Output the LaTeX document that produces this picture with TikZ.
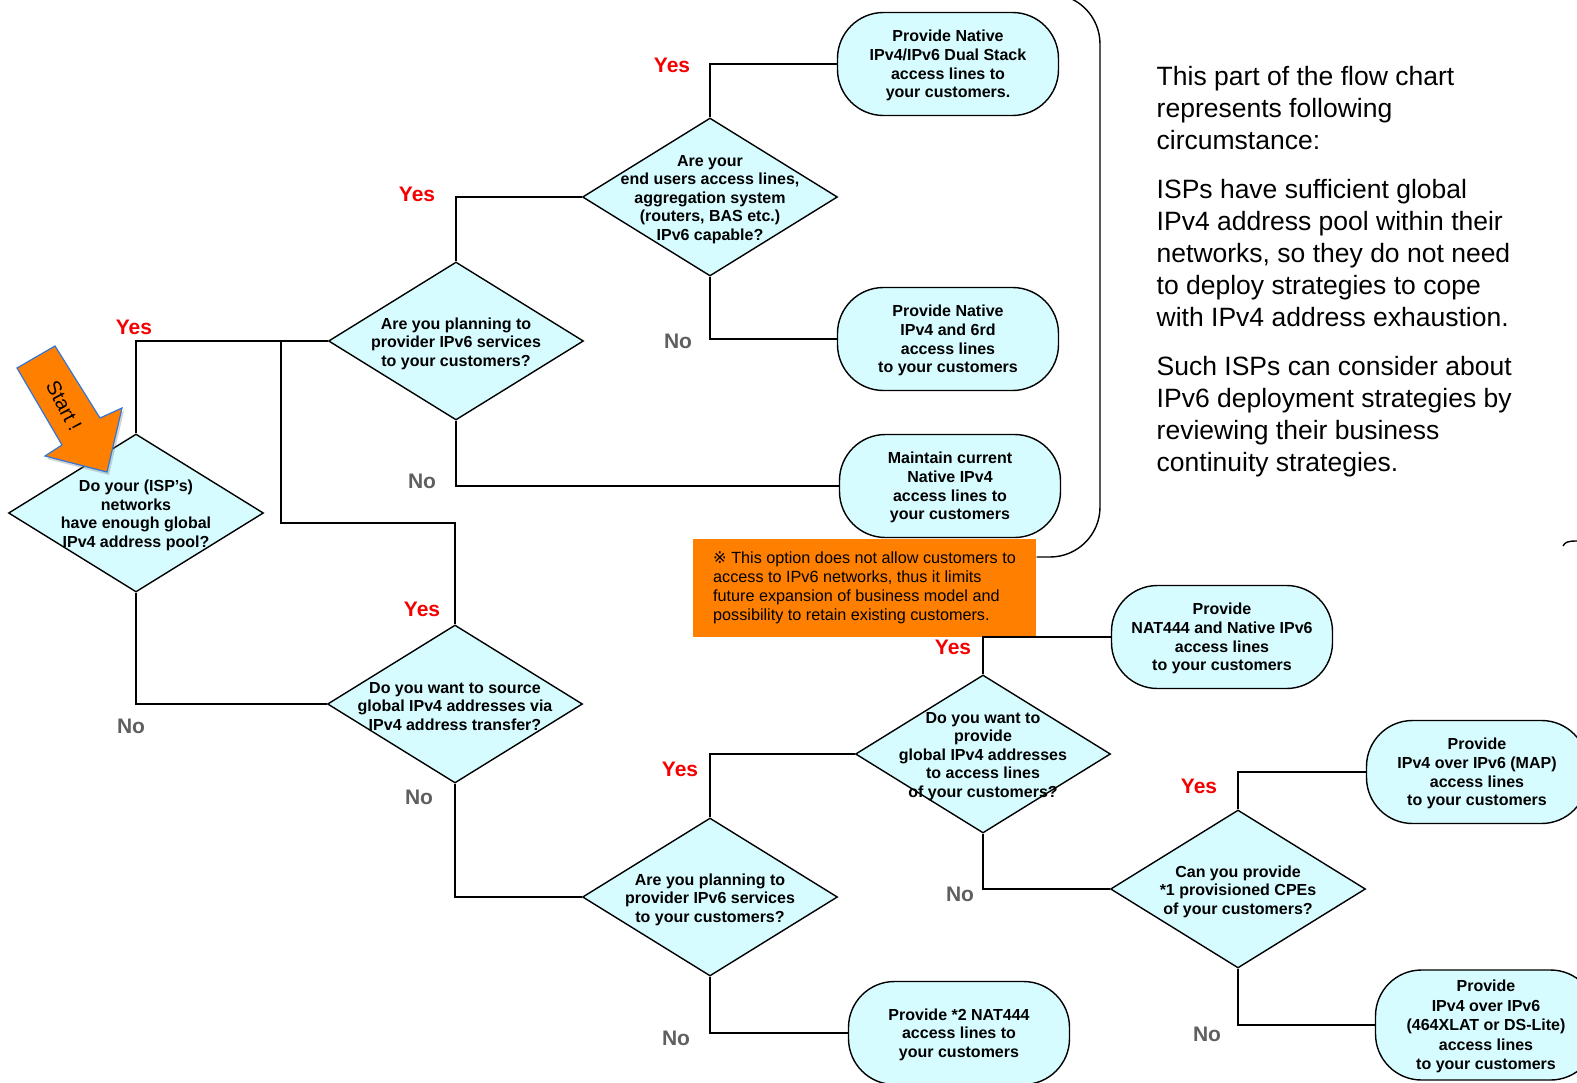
\documentclass[tikz,border=0pt]{standalone}
\usepackage{fontspec}
\setmainfont{Liberation Sans}
\newfontfamily\symfont{DejaVu Sans}
\usetikzlibrary{shapes.geometric,shadows}
\definecolor{qfill}{RGB}{214,252,255}
\definecolor{startorange}{RGB}{255,128,0}
\definecolor{startblue}{RGB}{52,118,214}
\definecolor{yesred}{RGB}{245,0,0}
\definecolor{nogray}{RGB}{95,95,95}

\begin{document}
\begin{tikzpicture}[x=1pt,y=-1pt,line width=1.4pt,
  question/.style={diamond,draw=black,fill=qfill,minimum width=255pt,minimum height=158pt,inner sep=0pt},
  qtext/.style={align=center,font=\bfseries\fontsize{16}{18.6}\selectfont,inner sep=0pt,yshift=-2.5pt},
  answer/.style={draw=black,fill=qfill,rounded corners=46pt,minimum width=221pt,minimum height=103pt,
    align=center,font=\bfseries\fontsize{16}{18.6}\selectfont,inner sep=0pt,text depth=0pt},
  yeslbl/.style={text=yesred,font=\bfseries\fontsize{21}{24}\selectfont},
  nolbl/.style={text=nogray,font=\bfseries\fontsize{21}{24}\selectfont},
  startarrow/.style={fill=startorange,draw=startblue,line width=1.2pt,line join=miter,
    drop shadow={opacity=0.35,shadow xshift=2pt,shadow yshift=-3pt}}]
\useasboundingbox (0,0) rectangle (1577,1082);

% questions
\node[question] (d1) at (136,513) {};
\node[qtext] (d1t) at (136,513) {Do your (ISP’s)\\ networks\\ have enough global\\ IPv4 address pool?};
\node[question] (d2) at (456,341) {};
\node[qtext] (d2t) at (d2) {Are you planning to\\ provider IPv6 services\\ to your customers?};
\node[question] (d3) at (710,197) {};
\node[qtext] (d3t) at (d3) {Are your\\ end users access lines,\\ aggregation system\\ (routers, BAS etc.)\\ IPv6 capable?};
\node[question] (d4) at (455,704) {};
\node[qtext] (d4t) at (d4) {Do you want to source\\ global IPv4 addresses via\\ IPv4 address transfer?};
\node[question] (d5) at (983,754) {};
\node[qtext] (d5t) at (d5) {Do you want to\\ provide\\ global IPv4 addresses\\ to access lines\\ of your customers?};
\node[question] (d6) at (710,897) {};
\node[qtext] (d6t) at (d6) {Are you planning to\\ provider IPv6 services\\ to your customers?};
\node[question] (d7) at (1238,889) {};
\node[qtext] (d7t) at (d7) {Can you provide\\ *1 provisioned CPEs\\ of your customers?};

% answers
\node[answer] (t1) at (948,64) {Provide Native\\ IPv4/IPv6 Dual Stack\\ access lines to\\ your customers.};
\node[answer] (t2) at (948,339) {Provide Native\\ IPv4 and 6rd\\ access lines\\ to your customers};
\node[answer] (t3) at (950,486) {Maintain current\\ Native IPv4\\ access lines to\\ your customers};
\node[answer] (t4) at (1222,637) {Provide\\ NAT444 and Native IPv6\\ access lines\\ to your customers};
\node[answer] (t5) at (1477,772) {Provide\\ IPv4 over IPv6 (MAP)\\ access lines\\ to your customers};
\node[answer,minimum height=110pt,font=\bfseries\fontsize{16}{19.5}\selectfont] (t6) at (1486,1025)
  {Provide\\ IPv4 over IPv6\\ (464XLAT or DS-Lite)\\ access lines\\ to your customers};
\node[answer] (t7) at (959,1033) {Provide *2 NAT444\\ access lines to\\ your customers};

% note
\node[fill=startorange,minimum width=343pt,minimum height=98pt,inner sep=0pt,align=left,
  font=\fontsize{16.2}{19}\selectfont] (note) at (864.5,588)
  {{\symfont ※} This option does not allow customers to\\ access to IPv6 networks, thus it limits\\
   future expansion of business model and\\ possibility to retain existing customers.};

% connectors
\coordinate (j1) at (281,341);
\coordinate (j2) at (281,523);
\draw (d1.north) |- (d2.west);
\draw (d1.south) |- (d4.west);
\draw (d4.north) |- (j2) -- (j1);
\draw (d2.north) |- (d3.west);
\draw (d2.south) |- (t3.west);
\draw (d3.north) |- (t1.west);
\draw (d3.south) |- (t2.west);
\draw (d4.south) |- (d6.west);
\draw (d6.north) |- (d5.west);
\draw (d6.south) |- (t7.west);
\draw (d5.north) |- (t4.west);
\draw (d5.south) |- (d7.west);
\draw (d7.north) |- (t5.west);
\draw (d7.south) |- (t6.west);

% yes / no
\node[yeslbl] (y1) at (134,327) {Yes};
\node[yeslbl] (y2) at (417,194) {Yes};
\node[yeslbl] (y3) at (672,65) {Yes};
\node[yeslbl] (y4) at (422,609) {Yes};
\node[yeslbl] (y5) at (953,647) {Yes};
\node[yeslbl] (y6) at (680,769) {Yes};
\node[yeslbl] (y7) at (1199,786) {Yes};
\node[nolbl] (n1) at (131,726) {No};
\node[nolbl] (n2) at (422,481) {No};
\node[nolbl] (n3) at (678,341) {No};
\node[nolbl] (n4) at (419,797) {No};
\node[nolbl] (n5) at (960,894) {No};
\node[nolbl] (n6) at (676,1038) {No};
\node[nolbl] (n7) at (1207,1034) {No};

% bracket
\draw[rounded corners=50pt] (1040,-6) -| (1100,557) -- (note.east |- 0,557);
\draw (1563,546) .. controls (1565,542) and (1568,541) .. (1577,541);

% start arrow
\draw[startarrow] (17,368) -- (55,346) -- (100,418) -- (122,408) -- (107,472) -- (45,456) -- (62,445) -- cycle;
\node[rotate=-62,font=\fontsize{20}{22}\selectfont] (start) at (64,406) {Start !};

% description
\node[anchor=north west,align=left,inner sep=0pt,font=\fontsize{26.5}{32.2}\selectfont] (desc) at (1156,65.5)
  {This part of the flow chart\\ represents following\\ circumstance:\\[16pt]
   ISPs have sufficient global\\ IPv4 address pool within their\\ networks, so they do not need\\
   to deploy strategies to cope\\ with IPv4 address exhaustion.\\[16pt]
   Such ISPs can consider about\\ IPv6 deployment strategies by\\ reviewing their business\\
   continuity strategies.};
\end{tikzpicture}
\end{document}
